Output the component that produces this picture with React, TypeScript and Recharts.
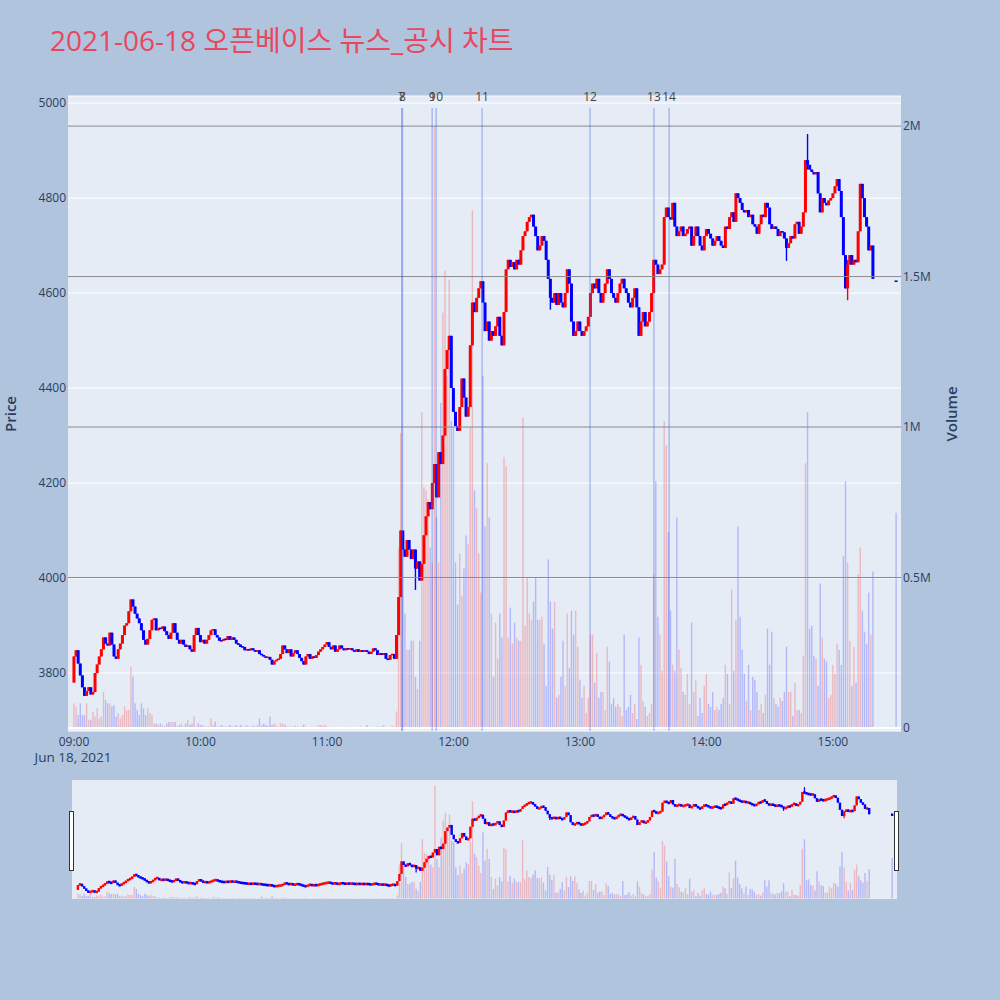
import React from 'react';
import { ComposedChart, Bar, XAxis, YAxis, CartesianGrid, ReferenceLine } from 'recharts';

// one candle per minute from 09:00 (minute 0) to 15:19, plus the 15:30 closing auction
const firstOpen = 3780;
const closes = [
  3835, 3848, 3820, 3795, 3770, 3752, 3762, 3770, 3755, 3760,
  3800, 3818, 3835, 3850, 3875, 3862, 3858, 3885, 3860, 3835,
  3830, 3850, 3862, 3880, 3900, 3905, 3930, 3955, 3940, 3925,
  3915, 3905, 3890, 3870, 3860, 3872, 3890, 3912, 3915, 3890,
  3895, 3893, 3898, 3888, 3880, 3872, 3885, 3905, 3885, 3870,
  3862, 3870, 3860, 3855, 3858, 3850, 3845, 3880, 3895, 3880,
  3865, 3870, 3862, 3870, 3880, 3890, 3892, 3880, 3875, 3868,
  3868, 3872, 3870, 3878, 3870, 3875, 3870, 3862, 3860, 3855,
  3855, 3848, 3850, 3848, 3852, 3848, 3845, 3848, 3840, 3838,
  3835, 3832, 3834, 3828, 3818, 3825, 3828, 3830, 3840, 3858,
  3850, 3842, 3850, 3835, 3842, 3848, 3840, 3832, 3825, 3818,
  3835, 3840, 3830, 3835, 3832, 3838, 3845, 3850, 3855, 3860,
  3865, 3855, 3850, 3858, 3845, 3850, 3858, 3852, 3848, 3852,
  3850, 3852, 3848, 3845, 3850, 3845, 3848, 3845, 3848, 3845,
  3840, 3845, 3852, 3848, 3838, 3842, 3838, 3842, 3830, 3828,
  3838, 3840, 3830, 3880, 3960, 4100, 4060, 4045, 4080, 4060,
  4040, 4060, 4020, 4035, 3995, 4030, 4090, 4130, 4160, 4145,
  4200, 4240, 4170, 4265, 4240, 4300, 4440, 4480, 4510, 4400,
  4350, 4320, 4310, 4360, 4420, 4380, 4340, 4360, 4490, 4580,
  4560, 4590, 4610, 4625, 4580, 4520, 4540, 4500, 4520, 4510,
  4530, 4550, 4510, 4490, 4560, 4650, 4670, 4655, 4665, 4650,
  4670, 4660, 4690, 4720, 4730, 4750, 4760, 4765, 4740, 4720,
  4690, 4700, 4720, 4710, 4670, 4630, 4590, 4580, 4600, 4575,
  4600, 4580, 4570, 4600, 4650, 4620, 4540, 4510, 4520, 4540,
  4520, 4510, 4520, 4530, 4550, 4600, 4620, 4610, 4630, 4600,
  4580, 4600, 4620, 4650, 4630, 4600, 4590, 4580, 4600, 4620,
  4630, 4610, 4600, 4580, 4570, 4590, 4610, 4570, 4510, 4540,
  4560, 4530, 4540, 4560, 4600, 4670, 4660, 4640, 4650, 4660,
  4760, 4780, 4760, 4755, 4790, 4740, 4720, 4730, 4740, 4720,
  4725, 4735, 4740, 4700, 4720, 4740, 4720, 4700, 4690, 4720,
  4735, 4725, 4715, 4700, 4710, 4720, 4710, 4700, 4695, 4740,
  4735, 4760, 4770, 4750, 4810, 4800, 4790, 4775, 4770, 4775,
  4760, 4765, 4745, 4740, 4725, 4745, 4765, 4760, 4790, 4780,
  4745, 4735, 4740, 4735, 4720, 4730, 4728, 4715, 4695, 4705,
  4720, 4715, 4745, 4750, 4725, 4740, 4770, 4880, 4870, 4860,
  4855, 4850, 4855, 4810, 4770, 4800, 4790, 4785, 4795, 4800,
  4810, 4825, 4840, 4815, 4760, 4680, 4610, 4660, 4680, 4660,
  4670, 4665, 4730, 4830, 4800, 4760, 4740, 4690, 4700, 4630,
];
// thousands of shares per minute
const volumesK = [
  82, 71, 43, 82, 43, 43, 82, 27, 27, 54,
  38, 65, 32, 38, 121, 93, 82, 82, 71, 76,
  38, 49, 32, 43, 71, 60, 60, 204, 171, 82,
  60, 43, 82, 65, 43, 65, 49, 43, 15, 15,
  10, 15, 10, 5, 15, 20, 20, 20, 20, 5,
  10, 15, 5, 15, 27, 10, 15, 38, 5, 15,
  10, 10, 5, 5, 5, 32, 10, 21, 5, 5,
  10, 5, 5, 5, 10, 5, 5, 10, 5, 10,
  5, 5, 10, 5, 5, 8, 5, 10, 32, 8,
  15, 10, 8, 38, 10, 15, 8, 5, 15, 15,
  10, 5, 5, 5, 5, 8, 5, 3, 5, 12,
  5, 3, 3, 5, 3, 3, 10, 10, 8, 10,
  5, 3, 3, 5, 3, 3, 2, 3, 3, 5,
  2, 3, 3, 2, 3, 2, 5, 3, 3, 10,
  2, 2, 3, 2, 5, 3, 5, 10, 3, 3,
  5, 8, 3, 55, 600, 980, 640, 380, 260, 260,
  290, 290, 170, 130, 290, 1050, 800, 790, 760, 600,
  550, 2000, 700, 550, 1080, 1380, 1520, 1170, 1490, 1020,
  1000, 550, 410, 580, 440, 530, 640, 610, 1000, 1720,
  790, 730, 580, 450, 1170, 670, 880, 700, 380, 170,
  350, 230, 380, 300, 900, 870, 300, 400, 280, 350,
  300, 290, 290, 1030, 340, 500, 380, 360, 420, 500,
  360, 360, 370, 280, 140, 560, 420, 330, 420, 100,
  110, 170, 290, 140, 380, 200, 390, 310, 390, 270,
  160, 100, 140, 50, 100, 310, 310, 150, 250, 100,
  120, 120, 60, 270, 220, 80, 100, 70, 80, 70,
  40, 310, 60, 70, 110, 50, 80, 30, 300, 210,
  90, 70, 40, 50, 80, 510, 820, 370, 310, 190,
  1020, 940, 650, 390, 210, 190, 700, 260, 200, 120,
  110, 180, 80, 350, 120, 160, 40, 100, 50, 140,
  180, 80, 70, 120, 60, 70, 60, 80, 100, 210,
  180, 80, 460, 190, 360, 670, 370, 260, 180, 90,
  210, 60, 170, 160, 120, 60, 80, 50, 110, 330,
  210, 320, 100, 80, 70, 100, 90, 120, 270, 120,
  120, 40, 150, 60, 60, 50, 240, 880, 1050, 330,
  340, 240, 230, 140, 480, 300, 230, 220, 100, 110,
  210, 180, 280, 260, 210, 570, 820, 550, 290, 140,
  270, 150, 510, 600, 390, 320, 280, 450, 310, 520,
];
// minutes with a visible wick beyond the body
const wickMinutes = [162, 226, 338, 348, 367];
const wickHighs = [4060, 4630, 4715, 4935, 4670];
const wickLows = [3975, 4565, 4668, 4860, 4585];

const auctionMinute = 390;
const auctionPrice = 4625;
const auctionVolumeK = 715;

const newsMinutes = [155.5, 155.8, 169.9, 171.8, 193.6, 244.8, 275.1, 282.3];
const newsLabels = ['7', '8', '9', '10', '11', '12', '13', '14'];

const timeTicks = [0, 60, 120, 180, 240, 300, 360];
const timeLabels = ['09:00', '10:00', '11:00', '12:00', '13:00', '14:00', '15:00'];
const priceTicks = [3800, 4000, 4200, 4400, 4600, 4800, 5000];
const volumeTicks = [0, 500000, 1000000, 1500000, 2000000];
const volumeTickLabels = ['0', '0.5M', '1M', '1.5M', '2M'];

const X_DOMAIN = [-2.85, 392.3];
const PRICE_DOMAIN = [3678, 5015];
const VOLUME_DOMAIN = [-10000, 2100000];

const FONT = '"Open Sans", "Noto Sans CJK KR", sans-serif';
const TEXT = '#2a3f5f';
const UP = '#ff0000';
const DOWN = '#0000ff';

type Row = { minute: number; open: number; close: number; high: number; low: number; volume: number; up: boolean };

const data: Row[] = closes.map((close, i) => {
  const open = i === 0 ? firstOpen : closes[i - 1];
  const w = wickMinutes.indexOf(i);
  const high = Math.max(open, close, w >= 0 ? wickHighs[w] : -Infinity);
  const low = Math.min(open, close, w >= 0 ? wickLows[w] : Infinity);
  return { minute: i, open, close, high, low, volume: volumesK[i] * 1000, up: close > open };
});
data.push({
  minute: auctionMinute,
  open: auctionPrice,
  close: auctionPrice,
  high: auctionPrice,
  low: auctionPrice,
  volume: auctionVolumeK * 1000,
  up: false,
});

const candleShape = (bodyW: number, wickW: number, minBody: number) => (props: any) => {
  const { x, y, width, height, payload } = props;
  if (!payload || x == null) return <g />;
  const cx = x + width / 2;
  const top = Math.min(y, y + height);
  const bottom = Math.max(y, y + height);
  const span = payload.high - payload.low;
  const toY = (v: number) => (span > 0 ? bottom - ((v - payload.low) / span) * (bottom - top) : top);
  const oy = toY(payload.open);
  const cy = toY(payload.close);
  const color = payload.up ? UP : DOWN;
  const bodyH = Math.max(Math.abs(oy - cy), minBody);
  const bodyTop = Math.min(oy, cy) - (bodyH - Math.abs(oy - cy)) / 2;
  return (
    <g>
      <line x1={cx} x2={cx} y1={top} y2={bottom} stroke={color} strokeWidth={wickW} />
      <rect x={cx - bodyW / 2} y={bodyTop} width={bodyW} height={bodyH} fill={color} />
    </g>
  );
};

const volumeShape = (props: any) => {
  const { x, y, width, height, payload } = props;
  if (!payload || x == null) return <g />;
  const cx = x + width / 2;
  return (
    <rect
      x={cx - 0.7}
      y={Math.min(y, y + height)}
      width={1.4}
      height={Math.abs(height)}
      fill={payload.up ? 'rgba(255,0,0,0.22)' : 'rgba(0,0,255,0.22)'}
    />
  );
};

const newsShape = (label: string) => (props: any) => {
  const { x1, y1, y2 } = props;
  const top = Math.min(y1, y2);
  const bottom = Math.max(y1, y2);
  return (
    <g>
      <line x1={x1} x2={x1} y1={top + 12} y2={bottom} stroke="rgb(60,90,230)" strokeOpacity={0.35} strokeWidth={1.5} />
      <text x={x1} y={top + 5} textAnchor="middle" fontSize={12} fontFamily={FONT} fill="#444">
        {label}
      </text>
    </g>
  );
};

const TimeTick = (props: any) => {
  const { x, y, payload } = props;
  const i = timeTicks.indexOf(payload.value);
  return (
    <g>
      <text x={x} y={y + 15} textAnchor="middle" fontSize={12} fontFamily={FONT} fill={TEXT}>
        {timeLabels[i]}
      </text>
      {i === 0 && (
        <text x={x - 1} y={y + 31} textAnchor="middle" fontSize={13.5} fontFamily={FONT} fill={TEXT}>
          Jun 18, 2021
        </text>
      )}
    </g>
  );
};

const Handle = ({ left }: { left: number }) => (
  <div
    style={{
      position: 'absolute',
      left,
      top: 811,
      width: 3,
      height: 58,
      background: '#fff',
      border: '1px solid #333',
    }}
  />
);

export default function App() {
  return (
    <div style={{ position: 'absolute', left: 0, top: 0, width: 1000, height: 1000, background: '#b0c4de', fontFamily: FONT }}>
      <div style={{ position: 'absolute', left: 50, top: 25, fontSize: 28, lineHeight: '30px', color: '#e8475e', whiteSpace: 'nowrap' }}>
        2021-06-18 오픈베이스 뉴스_공시 차트
      </div>

      <div style={{ position: 'absolute', left: 0, top: 0 }}>
        <ComposedChart width={1000} height={770} data={data} margin={{ top: 96, right: 0, bottom: 0, left: 0 }} barCategoryGap={0}>
          <CartesianGrid yAxisId="price" xAxisId="px" vertical={false} stroke="#ffffff" fill="#e5ecf6" />
          <XAxis
            xAxisId="px"
            type="number"
            dataKey="minute"
            domain={X_DOMAIN}
            allowDataOverflow
            ticks={timeTicks}
            interval={0}
            height={39}
            axisLine={false}
            tickLine={false}
            tickSize={0}
            tickMargin={0}
            tick={<TimeTick />}
          />
          <XAxis xAxisId="vx" type="number" dataKey="minute" domain={X_DOMAIN} allowDataOverflow hide />
          <YAxis
            yAxisId="price"
            orientation="left"
            width={68}
            domain={PRICE_DOMAIN}
            allowDataOverflow
            ticks={priceTicks}
            interval={0}
            axisLine={false}
            tickLine={false}
            tickSize={0}
            tickMargin={2}
            tick={{ fill: TEXT, fontSize: 12, fontFamily: FONT }}
            label={{
              content: () => (
                <text x={16} y={414} transform="rotate(-90 16 414)" textAnchor="middle" fontSize={15} fontWeight={600} fontFamily={FONT} fill={TEXT}>
                  Price
                </text>
              ),
            }}
          />
          <YAxis
            yAxisId="vol"
            orientation="right"
            width={99}
            domain={VOLUME_DOMAIN}
            allowDataOverflow
            ticks={volumeTicks}
            interval={0}
            axisLine={false}
            tickLine={false}
            tickSize={0}
            tickMargin={2}
            tick={{ fill: TEXT, fontSize: 12, fontFamily: FONT }}
            tickFormatter={(v: number) => volumeTickLabels[volumeTicks.indexOf(v)] ?? ''}
            label={{
              content: () => (
                <text x={957} y={414} transform="rotate(-90 957 414)" textAnchor="middle" fontSize={15} fontWeight={600} fontFamily={FONT} fill={TEXT}>
                  Volume
                </text>
              ),
            }}
          />
          {volumeTicks.slice(1).map((v) => (
            <ReferenceLine key={v} yAxisId="vol" xAxisId="px" y={v} stroke="#8a8a8a" strokeWidth={1} />
          ))}
          <ReferenceLine yAxisId="vol" xAxisId="px" y={0} stroke="#ffffff" strokeWidth={2} />
          <Bar xAxisId="vx" yAxisId="vol" dataKey="volume" shape={volumeShape} isAnimationActive={false} />
          {newsMinutes.map((m, i) => (
            <ReferenceLine key={i} xAxisId="px" yAxisId="price" x={m} shape={newsShape(newsLabels[i])} />
          ))}
          <Bar
            xAxisId="px"
            yAxisId="price"
            dataKey={(d: Row) => [d.low, d.high]}
            shape={candleShape(3, 1.4, 1.6)}
            isAnimationActive={false}
          />
        </ComposedChart>
      </div>

      <div style={{ position: 'absolute', left: 0, top: 780 }}>
        <ComposedChart width={1000} height={119} data={data} margin={{ top: 0, right: 103, bottom: 0, left: 72 }} barCategoryGap={0}>
          <CartesianGrid yAxisId="price" xAxisId="px" vertical={false} horizontal={false} fill="#e5ecf6" />
          <XAxis xAxisId="px" type="number" dataKey="minute" domain={X_DOMAIN} allowDataOverflow hide />
          <XAxis xAxisId="vx" type="number" dataKey="minute" domain={X_DOMAIN} allowDataOverflow hide />
          <YAxis yAxisId="price" domain={PRICE_DOMAIN} allowDataOverflow hide />
          <YAxis yAxisId="vol" orientation="right" domain={VOLUME_DOMAIN} allowDataOverflow hide />
          <Bar xAxisId="vx" yAxisId="vol" dataKey="volume" shape={volumeShape} isAnimationActive={false} />
          <Bar
            xAxisId="px"
            yAxisId="price"
            dataKey={(d: Row) => [d.low, d.high]}
            shape={candleShape(2.4, 1.2, 2.6)}
            isAnimationActive={false}
          />
        </ComposedChart>
      </div>
      <Handle left={69} />
      <Handle left={894} />
    </div>
  );
}
